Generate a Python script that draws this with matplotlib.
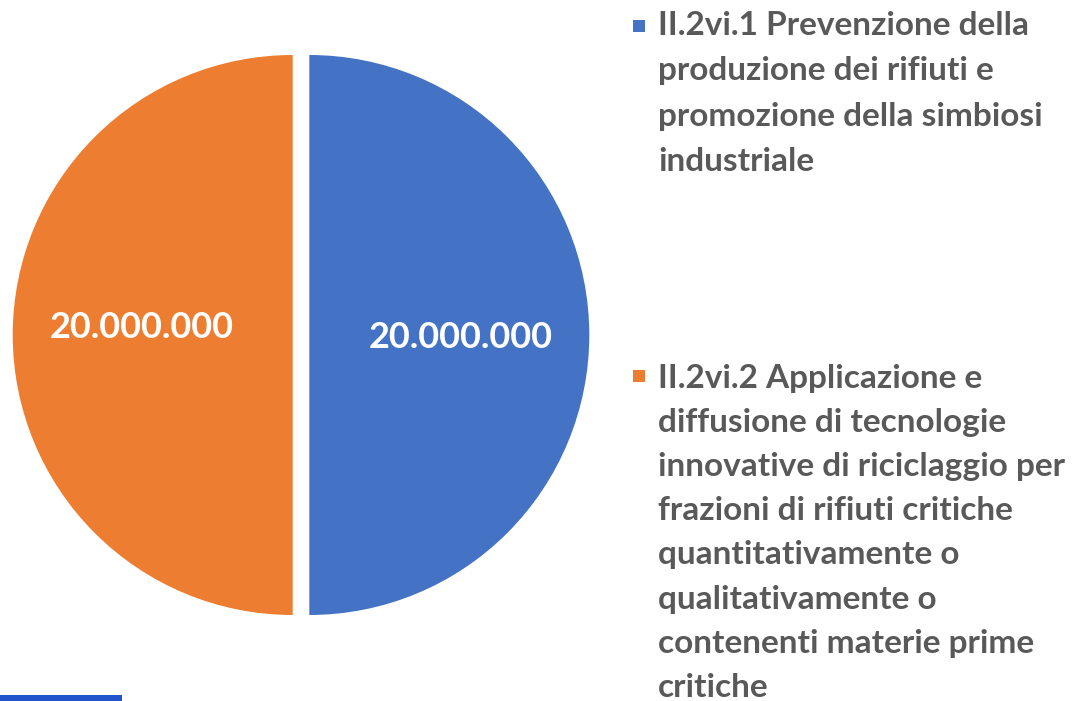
import matplotlib
matplotlib.use("Agg")
import matplotlib.pyplot as plt
from matplotlib.patches import Rectangle

categories = [
    "II.2vi.1 Prevenzione della\nproduzione dei rifiuti e\npromozione della simbiosi\nindustriale",
    "II.2vi.2 Applicazione e\ndiffusione di tecnologie\ninnovative di riciclaggio per\nfrazioni di rifiuti critiche\nquantitativamente o\nqualitativamente o\ncontenenti materie prime\ncritiche",
]
values = [20000000, 20000000]
colors = ["#4472C4", "#ED7D31"]
text_color = "#595959"

W, H = 1081, 701
fig = plt.figure(figsize=(W / 100, H / 100), dpi=100)
ax = fig.add_axes([0, 0, 1, 1])

R = 280
cx, cy = 301, H - 335

def fmt(v):
    return f"{v:,.0f}".replace(",", ".")

wedges, texts = ax.pie(
    values,
    colors=colors,
    startangle=90,
    counterclock=False,
    radius=R,
    center=(cx, cy),
    explode=[8.3, 8.3],
    labels=[fmt(v) for v in values],
    labeldistance=0.54,
    textprops=dict(color="white", fontsize=26, family="Lato", fontweight="bold"),
    frame=True,
)
for t in texts:
    t.set_ha("center")
    t.set_va("center")
x, y = texts[0].get_position()
texts[0].set_position((x, y - 3))
x, y = texts[1].get_position()
texts[1].set_position((x, y + 7))
ax.set_xlim(0, W)
ax.set_ylim(0, H)
ax.set_aspect("equal")
ax.axis("off")

# Legend
legend_tops = [11, 364]
line_spacings = [1.685, 1.63]
marker_centers = [26, 376]
for cat, col, ty, ls, my in zip(categories, colors, legend_tops, line_spacings, marker_centers):
    fig.patches.append(Rectangle((633 / W, 1 - (my + 6) / H), 12 / W, 12 / H,
                                 transform=fig.transFigure, facecolor=col, edgecolor="none"))
    fig.text(658 / W, 1 - ty / H, cat, ha="left", va="top", color=text_color,
             fontsize=24, family="Lato", fontweight="bold", linespacing=ls,
             transform=fig.transFigure)

# blue strip at bottom-left
fig.patches.append(Rectangle((0, 0), 122 / W, 6 / H, transform=fig.transFigure,
                             facecolor="#2255CC", edgecolor="none"))

fig.savefig("out.png", dpi=100)
